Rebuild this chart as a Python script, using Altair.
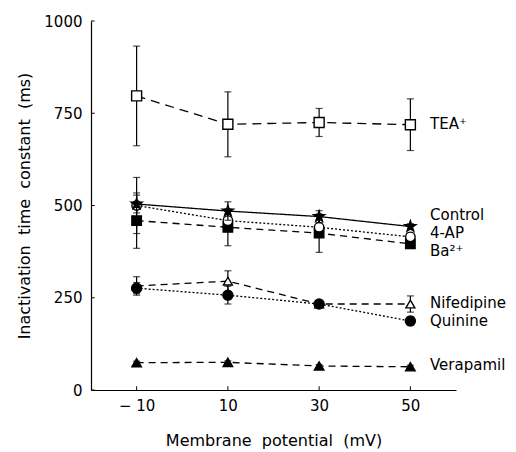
import altair as alt
import pandas as pd

# ---- data ----
membrane_mv = [-10, 10, 30, 50]
series_names = ["TEA⁺", "Control", "4-AP", "Ba²⁺", "Nifedipine", "Quinine", "Verapamil"]
tea = [797, 720, 725, 719]
tea_err = [135, 88, 38, 70]
control = [504, 485, 470, 443]
control_err = [24, 25, 16, 8]
ap4 = [500, 459, 441, 415]
ap4_err = [76, 30, 20, 10]
ba = [459, 441, 425, 396]
ba_err = [75, 50, 52, 10]
nifedipine = [282, 295, 233, 233]
nifedipine_err = [25, 28, 8, 22]
quinine = [276, 257, 233, 187]
quinine_err = [15, 24, 8, 12]
verapamil = [74, 75, 65, 63]
verapamil_err = [4, 4, 4, 4]
y_ticks = [0, 250, 500, 750, 1000]
x_ticks = [-10, 10, 30, 50]

values = [tea, control, ap4, ba, nifedipine, quinine, verapamil]
errors = [tea_err, control_err, ap4_err, ba_err, nifedipine_err, quinine_err, verapamil_err]

STAR = ("M0,-1L0.2245,-0.309L0.951,-0.309L0.363,0.118L0.588,0.809L0,0.382"
        "L-0.588,0.809L-0.363,0.118L-0.951,-0.309L-0.2245,-0.309Z")

# styles: (shape, filled, dash, size, label y in data units)
styles = {
    "TEA⁺": ("square", False, [9, 6], 100, 721),
    "Control": (STAR, True, [1, 0], 130, 473),
    "4-AP": ("circle", False, [2, 2], 90, 426),
    "Ba²⁺": ("square", True, [7, 5], 90, 378),
    "Nifedipine": ("triangle-up", False, [7, 5], 80, 236),
    "Quinine": ("circle", True, [2, 2], 100, 187),
    "Verapamil": ("triangle-up", True, [7, 5], 90, 68),
}

FONT = "DejaVu Sans"
xscale = alt.Scale(domain=[-20, 60], nice=False, zero=False)
yscale = alt.Scale(domain=[0, 1000], nice=False)

layers = []
order = ["TEA⁺", "Ba²⁺", "4-AP", "Control", "Nifedipine", "Quinine", "Verapamil"]
for name in order:
    i = series_names.index(name)
    df = pd.DataFrame({
        "x": membrane_mv,
        "y": values[i],
        "lo": [v - e for v, e in zip(values[i], errors[i])],
        "hi": [v + e for v, e in zip(values[i], errors[i])],
    })
    shape, filled, dash, size, _ = styles[name]
    base = alt.Chart(df)
    line = base.mark_line(color="black", strokeWidth=1.3, strokeDash=dash).encode(
        x=alt.X("x:Q", scale=xscale), y=alt.Y("y:Q", scale=yscale))
    rule = base.mark_rule(color="black", strokeWidth=1.2).encode(
        x="x:Q", y="lo:Q", y2="hi:Q")
    cap_lo = base.mark_tick(color="black", orient="horizontal", size=7, thickness=1.2).encode(
        x="x:Q", y="lo:Q")
    cap_hi = base.mark_tick(color="black", orient="horizontal", size=7, thickness=1.2).encode(
        x="x:Q", y="hi:Q")
    pts = base.mark_point(shape=shape, filled=True, size=size,
                          fill="black" if filled else "white",
                          stroke="black", strokeWidth=1.4, opacity=1).encode(
        x="x:Q", y="y:Q")
    layers += [line, rule, cap_lo, cap_hi, pts]

label_df = pd.DataFrame({
    "name": series_names,
    "x": [54.3] * len(series_names),
    "y": [styles[n][4] for n in series_names],
})
labels = alt.Chart(label_df).mark_text(align="left", baseline="middle", font=FONT,
                                       fontSize=15, color="black").encode(
    x="x:Q", y="y:Q", text="name:N")

ytick_df = pd.DataFrame({"y": y_ticks, "x0": [-20] * 5, "x1": [-19.2] * 5})
yticks = alt.Chart(ytick_df).mark_rule(color="black", strokeWidth=1).encode(
    x="x0:Q", x2="x1:Q", y="y:Q")
xtick_df = pd.DataFrame({"x": x_ticks, "y0": [0] * 4, "y1": [10] * 4})
xticks = alt.Chart(xtick_df).mark_rule(color="black", strokeWidth=1).encode(
    x="x:Q", y="y0:Q", y2="y1:Q")

SP = "\u00a0 "
axes = alt.Chart(pd.DataFrame({"x": [0], "y": [0]})).mark_point(opacity=0).encode(
    x=alt.X("x:Q", scale=xscale,
            axis=alt.Axis(values=x_ticks, title=f"Membrane{SP}potential{SP}(mV)",
                          ticks=False, grid=False, domainColor="black", domainWidth=1.2,
                          labelPadding=8, titlePadding=19,
                          labelExpr="datum.value < 0 ? '\u2212 ' + abs(datum.value) : datum.label")),
    y=alt.Y("y:Q", scale=yscale,
            axis=alt.Axis(values=y_ticks, format="d",
                          title=f"Inactivation{SP}time{SP}constant{SP}(ms)",
                          ticks=False, grid=False, domainColor="black", domainWidth=1.2,
                          labelPadding=9, titlePadding=11)),
)

chart = alt.layer(axes, yticks, xticks, *layers, labels).properties(
    width=365, height=369,
    autosize=alt.AutoSizeParams(type="none"),
    padding={"left": 91, "top": 21, "right": 60, "bottom": 62},
).configure_view(stroke=None).configure_axis(
    labelFont=FONT, titleFont=FONT, labelFontSize=15, titleFontSize=16,
    labelColor="black", titleColor="black", titleFontWeight="normal",
)

chart.save("out.html", embed_options={"renderer": "svg", "actions": False})
